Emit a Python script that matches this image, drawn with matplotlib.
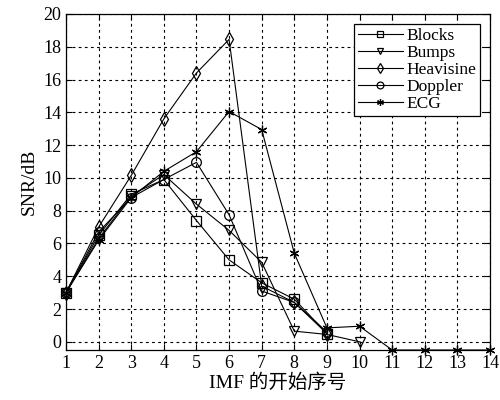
import matplotlib
matplotlib.use('Agg')
import matplotlib.pyplot as plt
import numpy as np

plt.rcParams['font.family'] = ['Liberation Serif', 'Noto Sans CJK SC']

# IMF starting index
imf = [1, 2, 3, 4, 5, 6, 7, 8, 9, 10, 11, 12, 13, 14]

# SNR (dB)
blocks    = [3.0, 6.5, 9.0, 9.9, 7.4, 5.0, 3.6, 2.6, 0.5]
bumps     = [3.0, 6.3, 8.9, 10.2, 8.4, 6.8, 4.85, 0.65, 0.45, 0.0]
heavisine = [3.0, 7.0, 10.15, 13.6, 16.4, 18.45, 3.4, 2.4, 0.5]
doppler   = [3.0, 6.7, 8.8, 9.9, 10.95, 7.75, 3.1, 2.4, 0.6]
ecg       = [3.0, 6.2, 8.8, 10.4, 11.6, 14.05, 12.95, 5.4, 0.85, 0.95, -0.5, -0.5, -0.5, -0.5]

series = [
    ('Blocks', blocks, 's'),
    ('Bumps', bumps, 'v'),
    ('Heavisine', heavisine, 'd'),
    ('Doppler', doppler, 'o'),
    ('ECG', ecg, (6, 2, 0)),
]

fig = plt.figure(figsize=(5, 4), dpi=100)
ax = fig.add_axes([0.132, 0.125, 0.848, 0.84])

for name, vals, mk in series:
    ax.plot(imf[:len(vals)], vals, color='black', linewidth=0.8, marker=mk,
            markersize=7, markerfacecolor='none', markeredgecolor='black',
            markeredgewidth=0.9, label=name, clip_on=False)

ax.set_xlim(1, 14)
ax.set_ylim(-0.5, 20)
ax.set_xticks(imf)
ax.set_yticks(np.arange(0, 21, 2))
ax.grid(True, color='black', linestyle=(0, (2.5, 3)), linewidth=0.8)
ax.tick_params(direction='in', top=True, right=True, labelsize=13, length=4)
for s in ax.spines.values():
    s.set_linewidth(0.9)

ax.set_xlabel('IMF 的开始序号', fontsize=14, labelpad=1)
ax.set_ylabel('SNR/dB', fontsize=14, labelpad=4)

leg = ax.legend(loc='upper right', fontsize=12.5, frameon=True, fancybox=False,
                edgecolor='black', framealpha=1, borderpad=0.2, labelspacing=0.05,
                handlelength=2.6, handletextpad=0.2, markerscale=0.7,
                borderaxespad=0.6)
leg.get_frame().set_linewidth(0.9)

fig.savefig('out.png', dpi=100)
